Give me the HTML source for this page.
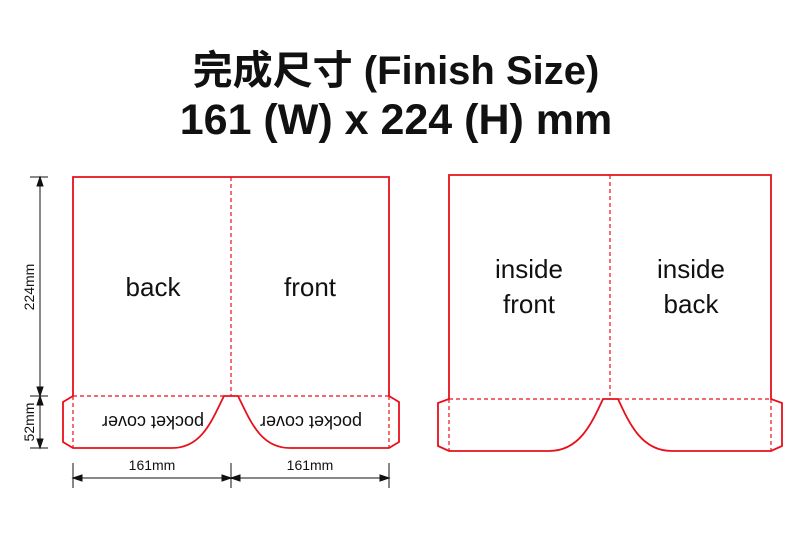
<!DOCTYPE html><html><head><style>body{margin:0;background:#fff}svg{display:block}</style></head><body>
<svg width="800" height="536" viewBox="0 0 800 536" font-family="'Liberation Sans','Noto Sans CJK TC',sans-serif">
<text x="396" y="84" font-size="40" font-weight="bold" text-anchor="middle" fill="#111">完成尺寸 (Finish Size)</text>
<text x="396" y="134" font-size="43" font-weight="bold" text-anchor="middle" fill="#111">161 (W) x 224 (H) mm</text>
<g fill="none" stroke="#e8101b" stroke-width="1.8">
<path d="M73 396 V177 H389 V396 L399 402 V442 L389 448 H290 C260 448 250 420 238 396 H224 C212 420 202 448 172 448 H73 L63 442 V402 Z"/>
<g stroke-dasharray="4,3" stroke-width="1.2"><path d="M231 177 V396 M73 396 H224 M238 396 H389 M73 396 V448 M389 396 V448"/></g>
<path d="M449 399 V175 H771 V399 L782 403 V446 L771 451 H672 C642 451 630 425 618 399 H603 C591 425 579 451 549 451 H449 L438 446 V403 Z"/>
<g stroke-dasharray="4,3" stroke-width="1.2"><path d="M610 175 V399 M449 399 H603 M618 399 H771 M449 399 V451 M771 399 V451"/></g>
</g>
<g font-size="26" fill="#111" text-anchor="middle">
<text x="153" y="296">back</text><text x="310" y="296">front</text>
<text x="529" y="278">inside</text><text x="529" y="313">front</text>
<text x="691" y="278">inside</text><text x="691" y="313">back</text>
</g>
<g font-size="18" fill="#111" text-anchor="middle">
<text transform="translate(153,416) rotate(180)">pocket cover</text>
<text transform="translate(311,416) rotate(180)">pocket cover</text>
</g>
<g stroke="#111" stroke-width="1" fill="#111">
<path d="M30 177 H48 M30 396 H48 M30 448 H48 M40 177 V448" fill="none"/>
<path d="M40 177 l-3 9 h6z M40 396 l-3 -9 h6z M40 396 l-3 9 h6z M40 448 l-3 -9 h6z"/>
<path d="M73 463 V488 M231 463 V488 M389 463 V488 M73 478 H389" fill="none"/>
<path d="M73 478 l9 -3 v6z M231 478 l-9 -3 v6z M231 478 l9 -3 v6z M389 478 l-9 -3 v6z"/>
</g>
<g font-size="14" fill="#111" text-anchor="middle">
<text x="152" y="470">161mm</text><text x="310" y="470">161mm</text>
<text transform="translate(34,287) rotate(-90)">224mm</text>
<text transform="translate(34,422) rotate(-90)">52mm</text>
</g>
</svg></body></html>
